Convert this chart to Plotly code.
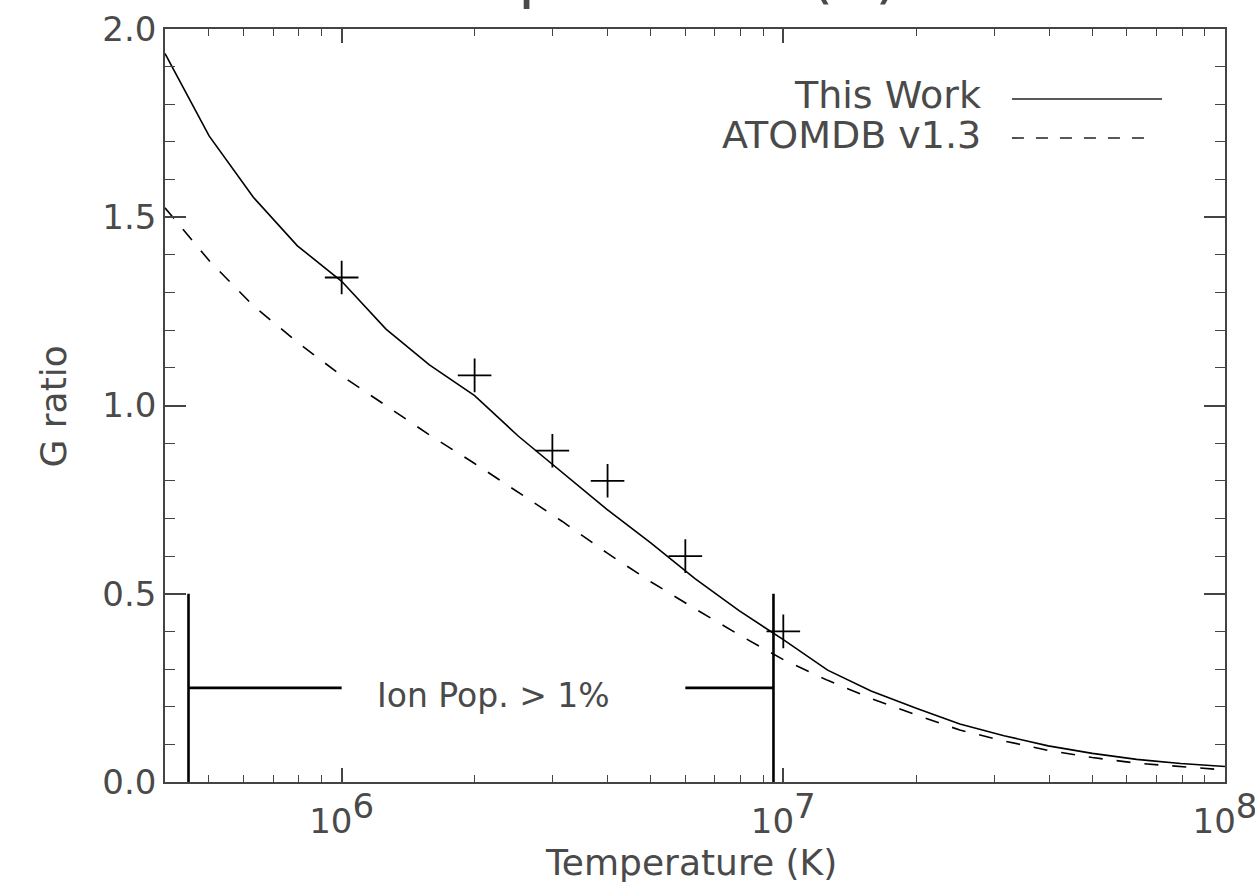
import math
import plotly.graph_objects as go

# ---------------- data ----------------
temperature = [3.98e5, 5.01e5, 6.31e5, 7.94e5, 1.0e6, 1.26e6, 1.58e6, 2.0e6, 2.51e6,
               3.16e6, 3.98e6, 5.01e6, 6.31e6, 7.94e6, 1.0e7, 1.26e7, 1.58e7, 2.0e7,
               2.51e7, 3.16e7, 3.98e7, 5.01e7, 6.31e7, 7.94e7, 1.0e8]
g_this_work = [1.935, 1.716, 1.553, 1.424, 1.33, 1.203, 1.108, 1.026, 0.919,
               0.822, 0.725, 0.635, 0.54, 0.455, 0.378, 0.297, 0.242, 0.196,
               0.154, 0.123, 0.096, 0.076, 0.060, 0.049, 0.041]
g_atomdb = [1.525, 1.385, 1.265, 1.168, 1.079, 0.999, 0.922, 0.846, 0.770,
            0.692, 0.609, 0.532, 0.460, 0.391, 0.325, 0.270, 0.222, 0.178,
            0.138, 0.109, 0.084, 0.065, 0.050, 0.041, 0.032]
obs_temperature = [1.0e6, 2.0e6, 3.0e6, 4.0e6, 6.0e6, 1.0e7]
obs_g = [1.34, 1.08, 0.88, 0.80, 0.60, 0.40]

# ion population > 1% bracket
ion_t_low, ion_t_high = 4.5e5, 9.5e6
ion_arm_low_end, ion_arm_high_start = 1.0e6, 6.0e6
ion_bar_top, ion_bar_mid = 0.5, 0.25
ion_label = "Ion Pop. > 1%"
ion_label_pos = (1.19e6, 0.229)

x_tickvals = [1e6, 1e7, 1e8]
x_ticktext = ["10<sup><span style='font-size:34px'>6</span></sup>",
              "10<sup><span style='font-size:34px'>7</span></sup>",
              "10<sup><span style='font-size:34px'>8</span></sup>"]
x_minor = [5e5, 6e5, 7e5, 8e5, 9e5,
           2e6, 3e6, 4e6, 5e6, 6e6, 7e6, 8e6, 9e6,
           2e7, 3e7, 4e7, 5e7, 6e7, 7e7, 8e7, 9e7]
y_tickvals = [0.0, 0.5, 1.0, 1.5, 2.0]
y_ticktext = ["0.0", "0.5", "1.0", "1.5", "2.0"]

legend_labels = ["This Work", "ATOMDB v1.3"]
axis_title_x = "Temperature (K)"
axis_title_y = "G ratio"

FONT = "DejaVu Sans"
TXT = "#4a4a4a"
AX = "#444444"

fig = go.Figure()

fig.add_trace(go.Scatter(x=temperature, y=g_this_work, mode="lines",
                         line=dict(color="black", width=1.6), showlegend=False))
fig.add_trace(go.Scatter(x=temperature, y=g_atomdb, mode="lines",
                         line=dict(color="black", width=1.6, dash="14px,14px"),
                         showlegend=False))
fig.add_trace(go.Scatter(x=obs_temperature, y=obs_g, mode="markers",
                         marker=dict(symbol="cross-thin", size=24,
                                     line=dict(color="black", width=1.8)),
                         showlegend=False))

# bracket
bx = [ion_t_low, ion_t_low, None, ion_t_low, ion_arm_low_end, None,
      ion_arm_high_start, ion_t_high, None, ion_t_high, ion_t_high]
by = [0, ion_bar_top, None, ion_bar_mid, ion_bar_mid, None,
      ion_bar_mid, ion_bar_mid, None, 0, ion_bar_top]
fig.add_trace(go.Scatter(x=bx, y=by, mode="lines", line=dict(color="black", width=2.6),
                         showlegend=False, cliponaxis=False))

annotations = [
    dict(x=math.log10(ion_label_pos[0]), y=ion_label_pos[1], xref="x", yref="y",
         text=ion_label, showarrow=False, xanchor="left", yanchor="middle",
         font=dict(family=FONT, size=33, color=TXT)),
    dict(x=0.4528, y=1.0727, xref="paper", yref="paper", text=axis_title_x,
         showarrow=False, xanchor="center", yanchor="middle",
         font=dict(family=FONT, size=63, color=TXT)),
    dict(x=0.4958, y=-0.1069, xref="paper", yref="paper", text=axis_title_x,
         showarrow=False, xanchor="center", yanchor="middle",
         font=dict(family=FONT, size=36, color=TXT)),
    dict(x=-0.1061, y=0.498, xref="paper", yref="paper", text=axis_title_y,
         showarrow=False, xanchor="center", yanchor="middle", textangle=-90,
         font=dict(family=FONT, size=36, color=TXT)),
    dict(x=0.7717, y=(782 - 94.5) / 753, xref="paper", yref="paper", text=legend_labels[0],
         showarrow=False, xanchor="right", yanchor="middle",
         font=dict(family=FONT, size=38, color=TXT)),
    dict(x=0.7717, y=(782 - 134.5) / 753, xref="paper", yref="paper", text=legend_labels[1],
         showarrow=False, xanchor="right", yanchor="middle",
         font=dict(family=FONT, size=38, color=TXT)),
]

shapes = [
    dict(type="line", xref="paper", yref="paper", x0=0.799, x1=0.9406,
         y0=(782 - 99) / 753, y1=(782 - 99) / 753, line=dict(color="#222", width=1.6)),
    dict(type="line", xref="paper", yref="paper", x0=0.799, x1=0.927,
         y0=(782 - 138) / 753, y1=(782 - 138) / 753,
         line=dict(color="#222", width=1.6, dash="12px,12px")),
]

fig.update_layout(
    width=1255, height=889, autosize=False,
    margin=dict(l=165, r=30, t=29, b=107),
    paper_bgcolor="white", plot_bgcolor="white",
    annotations=annotations, shapes=shapes,
    font=dict(family=FONT, color=TXT),
)

fig.update_xaxes(type="log", range=[5.6, 8.0001], tickvals=x_tickvals, ticktext=x_ticktext,
                 ticks="inside", ticklen=14, tickwidth=1.5, tickcolor=AX,
                 showline=True, linecolor=AX, linewidth=1.5, mirror="ticks",
                 showgrid=False, zeroline=False, ticklabelstandoff=8,
                 ticklabeloverflow="allow", automargin=False,
                 tickfont=dict(family=FONT, size=34, color=TXT),
                 minor=dict(tickvals=x_minor, ticks="inside", ticklen=7,
                            tickwidth=1.3, tickcolor=AX, showgrid=False))
fig.update_yaxes(range=[0, 2.0], tickvals=y_tickvals, ticktext=y_ticktext,
                 ticks="inside", ticklen=21, tickwidth=1.5, tickcolor=AX,
                 showline=True, linecolor=AX, linewidth=1.5, mirror="ticks",
                 showgrid=False, zeroline=False, ticklabelstandoff=0,
                 automargin=False,
                 tickfont=dict(family=FONT, size=34, color=TXT),
                 minor=dict(dtick=0.1, ticks="inside", ticklen=10.5,
                            tickwidth=1.3, tickcolor=AX, showgrid=False))

fig.write_html("out.html")
